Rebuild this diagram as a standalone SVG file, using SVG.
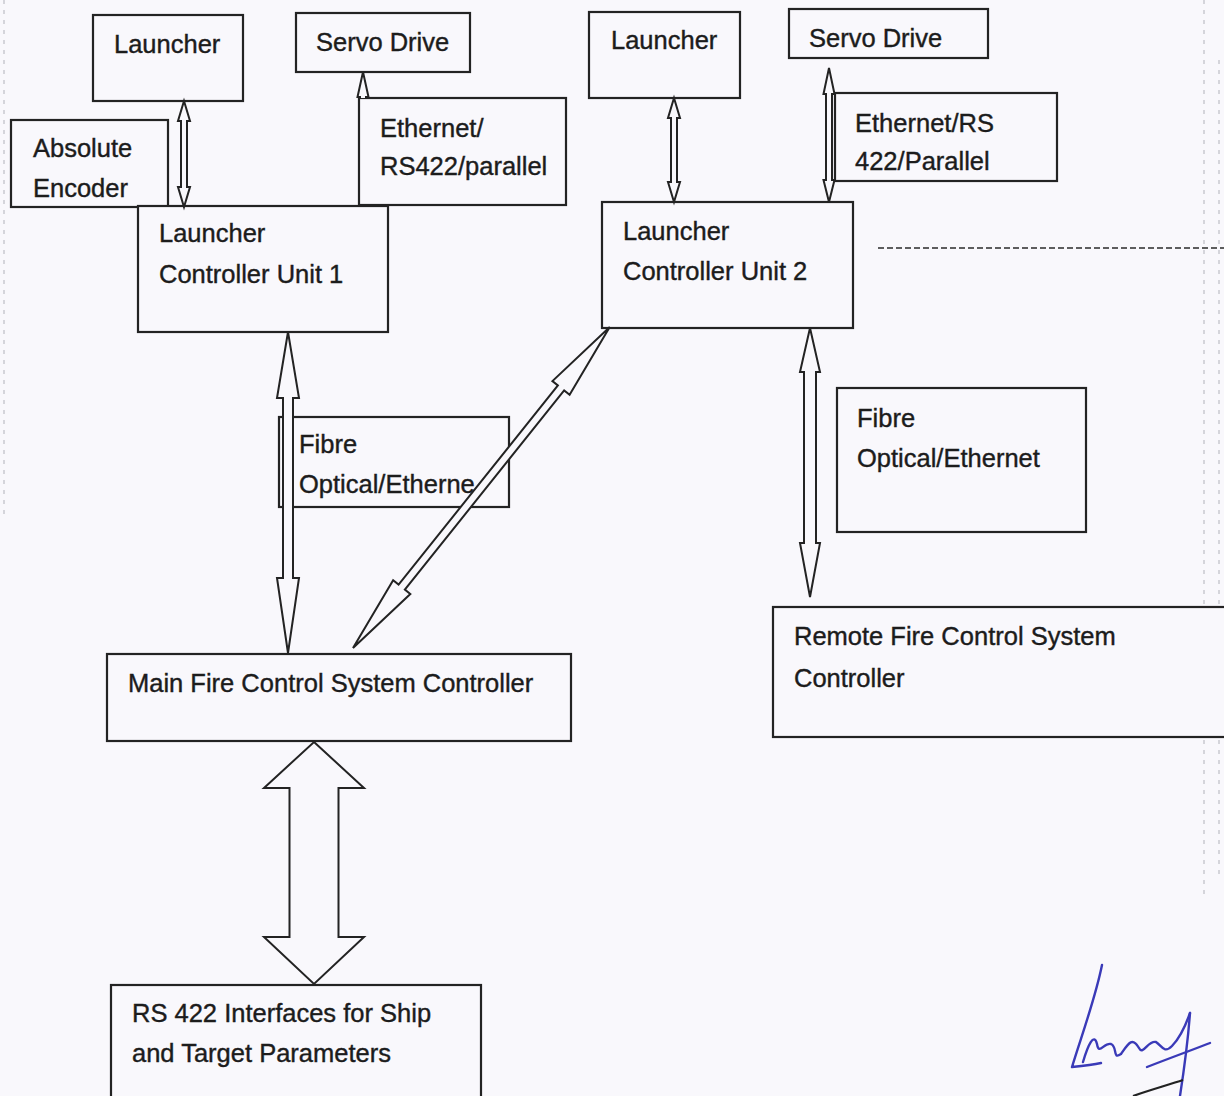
<svg xmlns="http://www.w3.org/2000/svg" width="1224" height="1096" viewBox="0 0 1224 1096">
  <style>
    .box { fill: #f9f8fc; stroke: #232323; stroke-width: 2.2; }
    .arr { fill: #f9f8fc; stroke: #232323; stroke-width: 2; stroke-linejoin: miter; }
    .lbl { font-family: "Liberation Sans", Arial, sans-serif; font-size: 25.5px; fill: #1c1c1c; stroke: #1c1c1c; stroke-width: 0.4; }
    .faint { stroke: #9a9aa6; stroke-width: 1.5; stroke-dasharray: 4 6; fill: none; opacity: 0.5; }
    .sig { fill: none; stroke: #3a3ab8; stroke-width: 2.4; stroke-linecap: round; stroke-linejoin: round; }
  </style>
  <defs>
    <clipPath id="aboveBox"><rect x="340" y="0" width="60" height="98"/></clipPath>
  </defs>
  <rect x="0" y="0" width="1224" height="1096" fill="#f9f8fc"/>

  <!-- faint scan marks -->
  <g id="scan-marks">
    <line class="faint" x1="1204" y1="0" x2="1204" y2="900"/>
    <line class="faint" x1="1219" y1="60" x2="1219" y2="880"/>
    <line class="faint" x1="4" y1="0" x2="4" y2="520"/>
    <line x1="878" y1="248" x2="1224" y2="248" stroke="#2a2a2a" stroke-width="1.6" stroke-dasharray="6 3"/>
  </g>

  <g id="n-launcher1"><rect class="box" x="93" y="15" width="150" height="86"/><text class="lbl" x="114" y="53">Launcher</text></g>
  <g id="n-servo1"><rect class="box" x="296" y="13" width="174" height="59"/><text class="lbl" x="316" y="51">Servo Drive</text></g>
  <g id="n-encoder"><rect class="box" x="11" y="120" width="157" height="87"/><text class="lbl" x="33" y="157">Absolute</text><text class="lbl" x="33" y="197">Encoder</text></g>
  <g id="n-lcu1"><rect class="box" x="138" y="206" width="250" height="126"/><text class="lbl" x="159" y="242">Launcher</text><text class="lbl" x="159" y="283">Controller Unit 1</text></g>
  <g id="n-eth1"><rect class="box" x="359" y="98" width="207" height="107"/><text class="lbl" x="380" y="137">Ethernet/</text><text class="lbl" x="380" y="175">RS422/parallel</text></g>

  <g id="n-launcher2"><rect class="box" x="589" y="12" width="151" height="86"/><text class="lbl" x="611" y="49">Launcher</text></g>
  <g id="n-servo2"><rect class="box" x="789" y="9" width="199" height="49"/><text class="lbl" x="809" y="47">Servo Drive</text></g>
  <g id="n-eth2"><rect class="box" x="835" y="93" width="222" height="88"/><text class="lbl" x="855" y="132">Ethernet/RS</text><text class="lbl" x="855" y="170">422/Parallel</text></g>
  <g id="n-lcu2"><rect class="box" x="602" y="202" width="251" height="126"/><text class="lbl" x="623" y="240">Launcher</text><text class="lbl" x="623" y="280">Controller Unit 2</text></g>

  <g id="n-fibre1"><rect class="box" x="279" y="417" width="230" height="90"/><text class="lbl" x="299" y="453">Fibre</text><text class="lbl" x="299" y="493">Optical/Etherne</text></g>
  <g id="n-fibre2"><rect class="box" x="837" y="388" width="249" height="144"/><text class="lbl" x="857" y="427">Fibre</text><text class="lbl" x="857" y="467">Optical/Ethernet</text></g>

  <g id="n-main"><rect class="box" x="107" y="654" width="464" height="87"/><text class="lbl" x="128" y="692">Main Fire Control System Controller</text></g>
  <g id="n-remote"><rect class="box" x="773" y="607" width="470" height="130"/><text class="lbl" x="794" y="645">Remote Fire Control System</text><text class="lbl" x="794" y="687">Controller</text></g>
  <g id="n-rs422"><rect class="box" x="111" y="985" width="370" height="130"/><text class="lbl" x="132" y="1022">RS 422 Interfaces for Ship</text><text class="lbl" x="132" y="1062">and Target Parameters</text></g>

  <g id="connectors">
    <polygon class="arr" points="184,101 190,121 187,121 187,187 190,187 184,207 178,187 181,187 181,121 178,121"/>
    <polygon class="arr" clip-path="url(#aboveBox)" points="363,72 368.5,97 366,97 366,183 368.5,183 363,205 357.5,183 360,183 360,97 357.5,97"/>
    <polygon class="arr" points="674,98 680,118 677,118 677,182 680,182 674,202 668,182 671,182 671,118 668,118"/>
    <polygon class="arr" points="829,68 834.5,94 832,94 832,180 834.5,180 829,202 823.5,180 826,180 826,94 823.5,94"/>
    <polygon class="arr" points="288,332 299,398 293,398 293,578 299,578 288,653 277,578 283,578 283,398 277,398"/>
    <polygon class="arr" transform="translate(353,648) rotate(38.66)" points="0,-411 11,-333 4,-333 4,-78 11,-78 0,0 -11,-78 -4,-78 -4,-333 -11,-333"/>
    <polygon class="arr" points="810,328 820,372 816,372 816,543 820,543 810,597 800,543 804,543 804,372 800,372"/>
    <polygon class="arr" points="314,742 364,788 338.5,788 338.5,937 364,937 314,984 264,937 289.5,937 289.5,788 264,788"/>
  </g>

  <g id="signature">
    <path class="sig" d="M1102,965 C1095,1000 1080,1040 1072,1067 C1082,1066 1092,1065 1101,1063"/>
    <path class="sig" d="M1083,1062 C1088,1045 1094,1032 1097,1044 C1099,1056 1104,1042 1111,1044 C1118,1047 1112,1060 1121,1054 C1128,1044 1132,1036 1139,1048 C1143,1056 1148,1040 1156,1042 C1162,1046 1164,1054 1172,1046 C1178,1040 1184,1030 1190,1013"/>
    <path class="sig" d="M1190,1013 C1188,1040 1184,1070 1180,1096"/>
    <path class="sig" d="M1147,1067 C1170,1058 1192,1050 1210,1043"/>
    <path d="M1133,1096 C1150,1090 1168,1085 1183,1080" fill="none" stroke="#222" stroke-width="2.2"/>
  </g>
</svg>
